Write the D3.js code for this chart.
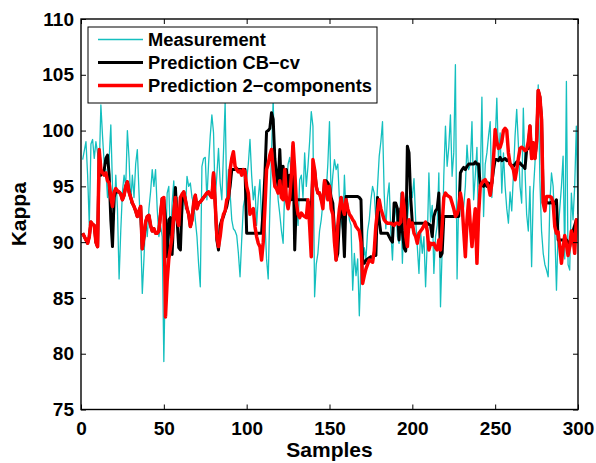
<!DOCTYPE html>
<html>
<head>
<meta charset="utf-8">
<script src="https://cdn.jsdelivr.net/npm/d3@7"></script>
<style>
  html, body { margin: 0; padding: 0; background: #fff; }
  svg { display: block; }
  text { font-family: "Liberation Sans", Arial, Helvetica, sans-serif; font-weight: bold; fill: #000; }
</style>
</head>
<body>
<svg id="chart" width="596" height="463"></svg>
<script>
// Kappa measurements vs. two predictors, samples 1..300
const measurement = [
  97.4, 98.2, 99.0, 96.0, 91.5, 98.8, 99.2, 97.5, 99.0, 98.0,
  96.5, 102.3, 99.5, 97.0, 96.5, 94.0, 97.5, 100.5, 95.0, 92.0,
  96.0, 93.0, 86.7, 91.0, 94.5, 96.0, 95.0, 100.0, 97.5, 93.5,
  96.0, 94.0, 97.0, 98.3, 94.5, 91.0, 85.4, 88.5, 92.0, 90.5,
  93.0, 94.5, 96.5, 95.0, 96.5, 93.0, 90.5, 91.5, 90.5, 79.3,
  88.0, 94.4, 95.0, 89.6, 93.5, 95.5, 92.0, 94.0, 91.5, 93.0,
  92.0, 94.5, 93.0, 95.9, 95.0, 95.3, 94.0, 93.5, 92.0, 90.5,
  88.0, 86.0, 96.8, 97.5, 97.6, 93.8, 97.0, 99.5, 101.4, 99.8,
  93.8, 96.0, 98.4, 95.3, 93.8, 98.0, 102.5, 93.5, 96.5, 94.4,
  92.0, 91.2, 91.0, 90.6, 89.0, 86.9, 90.2, 93.2, 94.0, 95.6,
  97.0, 99.2, 96.0, 93.8, 95.0, 91.5, 94.0, 95.6, 92.0, 89.9,
  92.0, 88.5, 86.7, 93.0, 98.0, 102.8, 95.6, 96.5, 93.8, 92.5,
  91.0, 89.9, 95.0, 94.5, 97.0, 97.6, 96.0, 97.0, 92.5, 94.0,
  91.5, 95.6, 96.0, 94.0, 98.0, 95.0, 96.8, 99.0, 101.7, 100.4,
  85.1, 88.0, 89.0, 91.0, 92.0, 93.5, 93.8, 94.5, 97.0, 100.8,
  94.0, 96.0, 97.4, 96.5, 97.0, 93.8, 92.0, 91.0, 96.0, 92.5,
  93.5, 92.0, 91.5, 85.7, 89.0, 87.0, 88.5, 83.4, 88.0, 87.0,
  89.5, 88.5, 91.0, 92.0, 93.8, 95.0, 94.4, 92.0, 95.0, 97.7,
  99.0, 100.8, 94.4, 91.2, 94.0, 95.3, 91.0, 88.4, 92.0, 93.5,
  90.5, 89.9, 94.4, 88.1, 93.0, 94.0, 92.0, 93.8, 95.0, 94.0,
  95.7, 92.0, 89.6, 87.2, 91.0, 89.0, 90.5, 86.0, 90.0, 96.2,
  91.8, 93.3, 87.2, 90.5, 91.5, 96.2, 84.2, 89.3, 96.0, 100.4,
  96.8, 98.5, 101.4, 95.9, 98.0, 105.9, 86.7, 94.0, 93.8, 92.3,
  93.2, 95.0, 98.7, 96.5, 97.0, 100.8, 93.8, 96.0, 98.5, 91.0,
  95.5, 103.0, 92.3, 97.0, 98.0, 99.5, 100.8, 94.0, 97.0, 99.0,
  102.9, 97.4, 99.8, 94.4, 98.0, 95.0, 93.0, 91.7, 94.5, 92.8,
  96.0, 99.5, 101.9, 98.8, 95.0, 93.5, 102.0, 96.5, 92.5, 91.0,
  95.0, 87.8, 94.4, 97.0, 99.8, 104.1, 95.5, 91.0, 89.0, 88.0,
  87.5, 86.9, 93.5, 96.2, 95.0, 91.0, 85.7, 91.0, 93.0, 95.0,
  97.7, 88.5, 104.4, 88.0, 87.5, 94.4, 92.0, 95.0, 100.4, 92.5
];

const predCBcv = [
  90.8, 90.5, 90.2, 89.9, 90.5, 91.8, 91.6, 91.5, 90.0, 89.6,
  98.0, 96.0, 96.2, 96.5, 97.5, 97.8, 96.0, 92.0, 89.6, 94.0,
  94.6, 94.5, 94.5, 94.3, 93.8, 94.2, 95.0, 95.4, 94.5, 94.0,
  93.5, 93.2, 92.8, 92.3, 92.8, 93.2, 89.4, 90.5, 91.8, 92.3,
  92.4, 91.5, 91.0, 91.2, 90.8, 90.8, 91.0, 92.5, 93.9, 93.8,
  92.0, 88.7, 92.0, 92.2, 88.9, 92.5, 94.9, 92.0, 89.5, 89.3,
  93.5, 94.5, 93.8, 93.0, 92.5, 91.4, 92.0, 93.5, 94.2, 93.0,
  93.5, 93.6, 93.8, 94.0, 94.2, 94.4, 94.5, 94.2, 94.0, 96.2,
  93.5, 90.2, 89.3, 91.5, 92.0, 92.3, 92.8, 93.2, 94.0, 95.0,
  96.5, 96.5, 96.5, 96.6, 96.5, 96.5, 96.5, 96.5, 96.5, 90.8,
  90.8, 90.8, 90.8, 90.8, 90.8, 90.8, 90.8, 90.8, 90.8, 93.0,
  96.0, 99.9, 100.0, 100.2, 101.6, 101.0, 97.5, 96.0, 95.0, 98.3,
  94.5, 96.8, 94.0, 96.5, 95.0, 96.0, 93.8, 98.6, 89.3, 93.8,
  93.8, 93.8, 93.8, 93.8, 93.8, 93.8, 93.6, 93.5, 93.0, 96.5,
  96.5, 95.0, 94.4, 94.4, 93.8, 93.5, 95.5, 95.5, 95.3, 95.0,
  94.0, 93.5, 91.0, 88.4, 89.0, 92.0, 94.0, 92.0, 88.7, 94.1,
  94.1, 94.1, 94.1, 94.1, 94.1, 94.1, 94.1, 94.0, 93.8, 88.1,
  88.1, 88.4, 88.5, 88.6, 88.7, 88.6, 88.8, 88.8, 94.0, 92.0,
  90.8, 90.8, 90.8, 90.8, 90.8, 90.5, 90.2, 90.0, 93.5, 93.5,
  93.0, 90.2, 93.0, 91.0, 89.5, 89.2, 98.6, 98.0, 94.0, 91.7,
  91.7, 91.7, 91.7, 91.7, 91.7, 91.7, 91.7, 91.7, 91.7, 91.6,
  91.5, 90.5, 92.3, 92.8, 93.0, 94.4, 88.7, 89.0, 92.3, 92.3,
  92.3, 92.3, 92.3, 92.3, 92.3, 92.3, 92.3, 92.3, 96.2, 96.5,
  96.7, 96.5, 96.8, 97.0, 97.0, 97.0, 97.0, 97.2, 97.0, 97.0,
  95.0, 95.2, 95.0, 95.2, 95.0, 95.3, 95.0, 95.3, 96.5, 97.4,
  97.4, 97.3, 97.6, 97.3, 97.4, 97.5, 97.3, 97.4, 97.0, 96.9,
  96.8, 97.0, 97.2, 97.0, 97.1, 96.9, 96.8, 96.6, 98.3, 98.4,
  100.4, 97.5, 98.9, 97.5, 99.0, 103.6, 103.0, 101.0, 93.5, 93.8,
  93.6, 93.5, 93.5, 93.6, 93.4, 93.5, 93.8, 90.2, 90.2, 90.2,
  90.2, 90.1, 90.2, 90.0, 89.6, 90.5, 91.0, 91.5, 92.0, 91.8
];

const pred2comp = [
  90.8, 90.5, 90.2, 89.9, 90.5, 91.8, 91.6, 91.5, 90.0, 89.6,
  98.3, 96.5, 96.2, 96.0, 96.2, 95.5, 95.3, 94.0, 93.2, 94.5,
  94.8, 94.6, 94.5, 94.3, 93.8, 94.2, 95.0, 95.4, 94.5, 94.0,
  93.5, 93.2, 92.8, 92.3, 92.8, 93.2, 89.4, 90.5, 91.8, 92.3,
  92.4, 91.5, 91.0, 91.2, 90.8, 90.8, 91.0, 92.5, 93.9, 94.0,
  83.3, 86.5, 88.5, 89.5, 90.5, 92.6, 94.0, 92.0, 91.5, 94.0,
  94.3, 94.5, 93.8, 93.0, 92.5, 91.4, 92.0, 93.5, 94.2, 93.0,
  93.5, 93.6, 93.8, 94.0, 94.2, 94.4, 94.5, 94.2, 94.0, 96.2,
  93.5, 90.5, 89.6, 90.5, 91.8, 92.5, 92.8, 93.8, 94.0, 96.5,
  97.5, 98.1, 96.8, 96.5, 96.3, 96.4, 96.0, 96.5, 96.3, 95.0,
  94.4, 92.5, 92.8, 93.0, 91.4, 90.5, 89.9, 89.6, 88.4, 90.0,
  93.0, 96.5, 97.0, 97.8, 98.3, 96.5, 95.0, 94.8, 94.4, 95.5,
  94.0, 93.8, 96.5, 93.8, 93.0, 94.0, 96.0, 98.9, 96.5, 93.5,
  92.5, 92.2, 92.6, 92.4, 92.3, 92.2, 93.8, 91.5, 88.7, 97.4,
  96.5, 95.0, 94.4, 94.4, 93.8, 93.0, 95.5, 95.0, 93.8, 95.0,
  93.0, 92.5, 90.0, 88.4, 91.5, 93.0, 94.0, 93.0, 92.5, 93.8,
  93.0, 92.5, 92.3, 92.0, 91.8, 91.4, 91.2, 91.0, 90.0, 86.3,
  87.0, 87.6, 88.0, 88.4, 88.3, 88.2, 89.2, 91.5, 92.8, 93.8,
  93.0, 92.5, 92.0, 91.8, 91.7, 91.7, 91.7, 91.6, 91.5, 91.7,
  91.7, 91.6, 91.8, 94.4, 93.2, 90.5, 89.6, 92.0, 91.4, 91.7,
  90.8, 90.5, 89.9, 90.8, 91.0, 91.2, 91.5, 91.8, 91.0, 89.3,
  89.9, 89.8, 89.9, 89.5, 89.3, 90.2, 89.3, 91.5, 94.0, 94.4,
  94.2, 94.1, 94.0, 93.5, 93.0, 92.3, 92.5, 93.0, 94.4, 93.5,
  91.0, 88.7, 92.0, 93.8, 91.5, 89.6, 91.5, 93.0, 88.1, 92.5,
  95.0, 95.3, 95.5, 95.6, 95.3, 95.0, 94.2, 95.3, 97.5, 100.1,
  99.0, 98.4, 98.5, 99.0, 100.0, 100.2, 100.0, 98.0, 97.0, 96.8,
  96.5, 95.6, 96.5, 97.5, 98.4, 98.5, 98.4, 98.2, 98.3, 99.0,
  100.4, 97.5, 98.9, 97.5, 99.0, 103.6, 103.0, 101.0, 93.5, 92.8,
  94.1, 94.1, 94.1, 94.0, 93.5, 91.4, 90.8, 90.9, 89.6, 88.1,
  89.5, 90.6, 89.8, 88.8, 89.6, 91.0, 90.5, 89.0, 92.0, 91.8
];

const xTicks = [0, 50, 100, 150, 200, 250, 300];
const yTicks = [75, 80, 85, 90, 95, 100, 105, 110];
const seriesNames = ["Measurement", "Prediction CB\u2212cv", "Prediction 2\u2212components"];

const svg = d3.select("#chart");
const W = 596, H = 463;
const plot = { left: 81, right: 578, top: 19, bottom: 409.5 };

svg.append("rect").attr("width", W).attr("height", H).attr("fill", "#fff");

const x = d3.scaleLinear().domain([0, 300]).range([plot.left, plot.right]);
const y = d3.scaleLinear().domain([75, 110]).range([plot.bottom, plot.top]);

svg.append("defs").append("clipPath").attr("id", "plotClip")
  .append("rect")
  .attr("x", plot.left).attr("y", plot.top)
  .attr("width", plot.right - plot.left).attr("height", plot.bottom - plot.top);

const line = d3.line().x((d, i) => x(i + 1)).y(d => y(d));

const series = [
  { name: seriesNames[0], values: measurement, color: "#14bfbf", width: 1.3 },
  { name: seriesNames[1], values: predCBcv, color: "#000000", width: 3 },
  { name: seriesNames[2], values: pred2comp, color: "#ff0000", width: 3.5 }
];

const g = svg.append("g").attr("clip-path", "url(#plotClip)");
series.forEach(s => {
  g.append("path")
    .datum(s.values)
    .attr("fill", "none")
    .attr("stroke", s.color)
    .attr("stroke-width", s.width)
    .attr("stroke-linejoin", "round")
    .attr("d", line);
});

// axes with inward ticks on all four sides
const tickFont = "19px";
const axB = svg.append("g").attr("transform", `translate(0,${plot.bottom})`)
  .call(d3.axisBottom(x).tickValues(xTicks).tickSizeInner(-5).tickSizeOuter(0).tickPadding(12));
const axL = svg.append("g").attr("transform", `translate(${plot.left},0)`)
  .call(d3.axisLeft(y).tickValues(yTicks).tickSizeInner(-5).tickSizeOuter(0).tickPadding(7));
const axT = svg.append("g").attr("transform", `translate(0,${plot.top})`)
  .call(d3.axisTop(x).tickValues(xTicks).tickSizeInner(-5).tickSizeOuter(0).tickFormat(""));
const axR = svg.append("g").attr("transform", `translate(${plot.right},0)`)
  .call(d3.axisRight(y).tickValues(yTicks).tickSizeInner(-5).tickSizeOuter(0).tickFormat(""));

[axB, axL, axT, axR].forEach(a => {
  a.select(".domain").remove();
  a.selectAll(".tick line").attr("stroke", "#000").attr("stroke-width", 1);
  a.selectAll("text")
    .style("font-family", "'Liberation Sans', Arial, Helvetica, sans-serif")
    .style("font-weight", "bold")
    .style("font-size", tickFont)
    .attr("fill", "#000");
});

svg.append("rect")
  .attr("x", plot.left).attr("y", plot.top)
  .attr("width", plot.right - plot.left).attr("height", plot.bottom - plot.top)
  .attr("fill", "none").attr("stroke", "#000").attr("stroke-width", 1.4);

// axis titles
svg.append("text")
  .attr("x", (plot.left + plot.right) / 2).attr("y", 457)
  .attr("text-anchor", "middle").style("font-size", "21px")
  .text("Samples");
svg.append("text")
  .attr("transform", `translate(26,${(plot.top + plot.bottom) / 2}) rotate(-90)`)
  .attr("text-anchor", "middle").style("font-size", "21px")
  .text("Kappa");

// legend
const lg = svg.append("g");
lg.append("rect")
  .attr("x", 88).attr("y", 27).attr("width", 289).attr("height", 76)
  .attr("fill", "#fff").attr("stroke", "#000").attr("stroke-width", 1);
const rows = [39.5, 62.5, 85.5];
series.forEach((s, i) => {
  lg.append("line")
    .attr("x1", 98).attr("x2", 143).attr("y1", rows[i]).attr("y2", rows[i])
    .attr("stroke", s.color).attr("stroke-width", s.width);
  lg.append("text")
    .attr("x", 148).attr("y", rows[i]).attr("dy", "0.36em")
    .style("font-size", "18.3px")
    .text(s.name);
});
</script>
</body>
</html>
